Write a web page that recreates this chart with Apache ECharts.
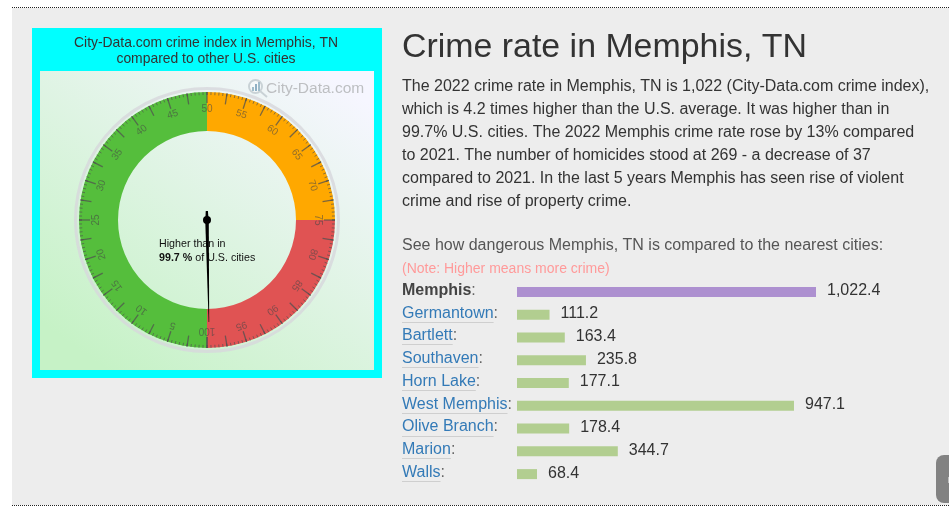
<!DOCTYPE html>
<html><head><meta charset="utf-8">
<style>html,body{margin:0;padding:0;background:#fff}#c{width:949px;height:512px}</style>
<script src="https://cdn.jsdelivr.net/npm/echarts@6/dist/echarts.min.js"></script>
</head><body><div id="c"></div>
<script>
const cities = ['Memphis','Germantown','Bartlett','Southaven','Horn Lake','West Memphis','Olive Branch','Marion','Walls'];
const crimeIndex = [1022.4,111.2,163.4,235.8,177.1,947.1,178.4,344.7,68.4];
const percentile = 99.7;
const gaugeBands = [[0.5,'#55BE3C'],[0.75,'#FFA800'],[1,'#E05353']];
const paragraph = [
 'The 2022 crime rate in Memphis, TN is 1,022 (City-Data.com crime index),',
 'which is 4.2 times higher than the U.S. average. It was higher than in',
 '99.7% U.S. cities. The 2022 Memphis crime rate rose by 13% compared',
 'to 2021. The number of homicides stood at 269 - a decrease of 37',
 'compared to 2021. In the last 5 years Memphis has seen rise of violent',
 'crime and rise of property crime.'];

const F = '"Liberation Sans", Arial, sans-serif';
const chart = echarts.init(document.getElementById('c'), null, {renderer:'canvas'});
const txt = (x,y,text,font,fill,align)=>({type:'text',x,y,style:{text,font,fill,align:align||'left',verticalAlign:'middle'}});
const CX=207, CY=220;
const graphics = [
 {type:'rect',shape:{x:12,y:8,width:937,height:497},style:{fill:'#ededed'}},
 {type:'line',shape:{x1:12,y1:7.5,x2:949,y2:7.5},style:{stroke:'#222',lineWidth:1,lineDash:[1,1]}},
 {type:'line',shape:{x1:12,y1:505.5,x2:949,y2:505.5},style:{stroke:'#222',lineWidth:1,lineDash:[1,1]}},
 {type:'rect',shape:{x:32,y:28,width:350,height:350},style:{fill:'#00ffff'}},
 {type:'rect',shape:{x:40,y:71,width:334,height:299},style:{fill:new echarts.graphic.LinearGradient(0.2,1,0.85,0,[{offset:0,color:'#c6f2c6'},{offset:1,color:'#f6f6ff'}])}},
 txt(206,43,'City-Data.com crime index in Memphis, TN','13.9px '+F,'#333','center'),
 txt(206,59,'compared to other U.S. cities','13.9px '+F,'#333','center'),
 {type:'circle',shape:{cx:CX,cy:CY,r:131.5},style:{fill:'none',stroke:'rgba(215,215,220,0.8)',lineWidth:3}},
 {type:'circle',shape:{cx:255.5,cy:86.5,r:6.5},style:{fill:'rgba(255,255,255,0.4)',stroke:'#c9d2d6',lineWidth:2}},
 {type:'line',shape:{x1:260,y1:91,x2:267,y2:97},style:{stroke:'#c9d2d6',lineWidth:2}},
 {type:'rect',shape:{x:252,y:87,width:2,height:4},style:{fill:'#9fbccb'}},
 {type:'rect',shape:{x:255,y:84,width:2,height:7},style:{fill:'#8fb0c4'}},
 {type:'rect',shape:{x:258,y:82,width:2,height:9},style:{fill:'#9fbccb'}},
 txt(266,88.5,'City-Data.com','15.5px '+F,'#bdbfc2'),
 txt(402,47.5,'Crime rate in Memphis, TN','33.9px '+F,'#333'),
 ...paragraph.map((s,i)=>txt(402,87+i*23,s,'16px '+F,'#333')),
 txt(402,246,'See how dangerous Memphis, TN is compared to the nearest cities:','16px '+F,'#555'),
 txt(402,269,'(Note: Higher means more crime)','14px '+F,'#ff9a9a'),
 {type:'rect',shape:{x:936,y:455,width:20,height:48,r:8},style:{fill:'#828282'}},
 {type:'rect',shape:{x:948,y:477,width:1,height:6},style:{fill:'#c0c0c0'}},
];
const option = {
 animation:false,
 backgroundColor:'#fff',
 graphic:{elements:graphics},
 grid:{left:517,top:280.5,width:299,height:205},
 xAxis:{type:'value',min:0,max:1022.4,show:false},
 yAxis:{type:'category',data:cities,inverse:true,
  axisLine:{show:false},axisTick:{show:false},splitLine:{show:false},
  axisLabel:{margin:115,align:'left',fontFamily:F,fontSize:16,color:'#555',padding:[0,0,3,0],
   formatter:(v,i)=>i===0?`{b|${v}}{p|:}`:`{l|${v}}{p|:}`,
   rich:{b:{fontWeight:'bold',fontSize:16,fontFamily:F,color:'#444'},
         l:{fontSize:16,fontFamily:F,color:'#337ab7'},
         p:{fontSize:16,fontFamily:F,color:'#666'}}}},
 series:[
  {type:'bar',barWidth:10,silent:true,
   data:crimeIndex.map((v,i)=>({value:v,itemStyle:{color:i===0?'#AD90D0':'#B2CE90'}})),
   label:{show:true,position:'right',distance:11,offset:[0,-1],fontFamily:F,fontSize:16,color:'#333',
     formatter:p=>p.value.toLocaleString('en-US',{minimumFractionDigits:1})}},
  {type:'gauge',center:[CX,CY],radius:128,startAngle:-90,endAngle:-450,clockwise:true,min:0,max:100,splitNumber:40,silent:true,
   axisLine:{lineStyle:{width:39,color:gaugeBands}},
   splitLine:{distance:-39,length:11,lineStyle:{color:'rgba(80,80,80,0.75)',width:1.3}},
   axisTick:{distance:-39,length:3,splitNumber:5,lineStyle:{color:'rgba(80,80,80,0.65)',width:1}},
   axisLabel:{distance:45,rotate:'tangential',fontSize:10,fontFamily:F,color:'rgba(70,70,70,0.6)',
     formatter:v=>(v%5===0&&v!==0)?String(v):''},
   pointer:{icon:'path://M3.4,0 L4.6,0 L8,100 L6.5,111 L1.5,111 L0,100 Z',length:111,width:3.5,offsetCenter:[0,9],itemStyle:{color:'#000'}},
   anchor:{show:true,showAbove:true,size:8,itemStyle:{color:'#000',borderWidth:0}},
   title:{show:false},
   detail:{show:true,offsetCenter:[2,31],fontWeight:'normal',formatter:v=>`{a|Higher than in}\n{b|${v} %}{a| of U.S. cities}`,
     width:100,align:'left',
     rich:{a:{fontSize:10.7,fontFamily:F,fontWeight:'normal',color:'#111',lineHeight:14,align:'left'},
           b:{fontSize:10.7,fontFamily:F,fontWeight:'bold',color:'#111',lineHeight:14,align:'left'}}},
   data:[{value:percentile}]}
 ]
};
chart.setOption(option);
// link underlines under the city names
const ctx=document.createElement('canvas').getContext('2d'); ctx.font='16px '+F;
const under=cities.slice(1).map((c,i)=>{
  const y=Math.round(chart.convertToPixel({yAxisIndex:0},c))+7.5;
  return {type:'line',shape:{x1:402,y1:y,x2:402+ctx.measureText(c).width,y2:y},style:{stroke:'#cfcfcf',lineWidth:1}};
});
chart.setOption({graphic:{elements:graphics.concat(under)}});
</script></body></html>
